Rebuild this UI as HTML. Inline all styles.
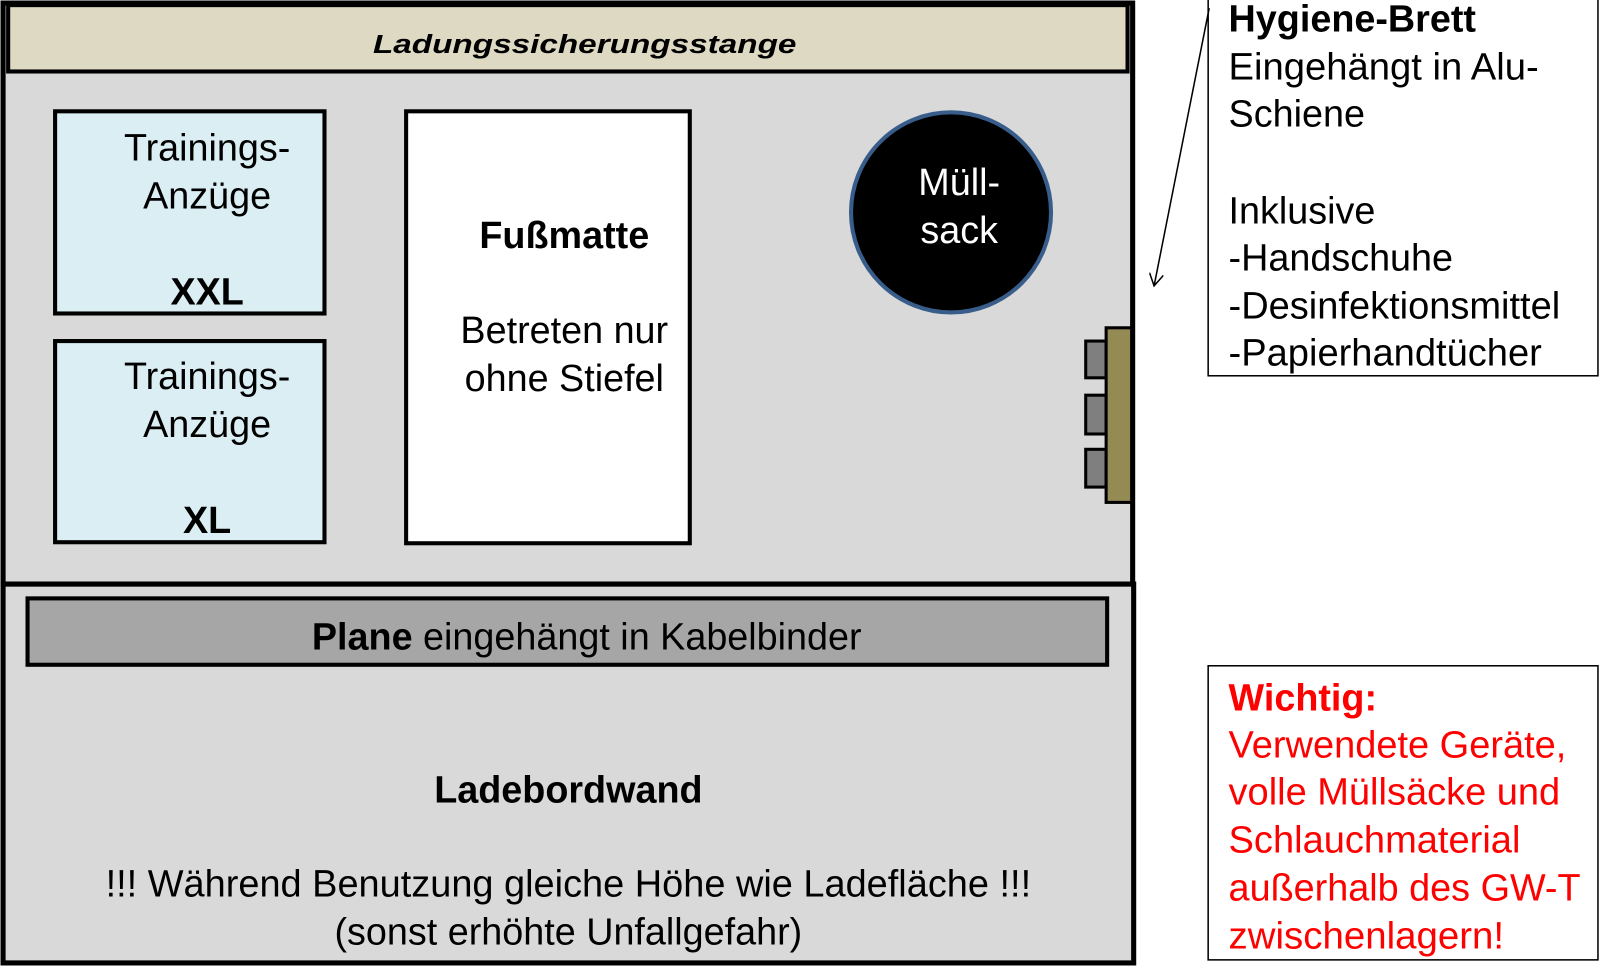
<!DOCTYPE html>
<html><head><meta charset="utf-8"><style>
html,body{margin:0;padding:0;background:#fff;}
svg{display:block;}
text{font-family:"Liberation Sans",Arial,sans-serif;}
</style></head><body>
<svg width="1600" height="966" viewBox="0 0 1568 946" preserveAspectRatio="none" xmlns="http://www.w3.org/2000/svg">
<defs>
<marker id="ah" markerWidth="14" markerHeight="14" refX="12" refY="7" orient="auto" markerUnits="userSpaceOnUse">
<path d="M0,0 L12,7 L0,14" fill="none" stroke="#000" stroke-width="1.5"/>
</marker>
</defs>
<rect x="0" y="0" width="1568" height="946" fill="#fff"/>
<rect x="3" y="3" width="1107" height="569" fill="#d9d9d9" stroke="#000" stroke-width="5"/>
<rect x="3" y="572" width="1108" height="371" fill="#d9d9d9" stroke="#000" stroke-width="5"/>
<rect x="8" y="5" width="1097" height="65" fill="#ddd9c3" stroke="#000" stroke-width="4"/>
<text x="573" y="52" font-size="25" font-weight="bold" font-style="italic" text-anchor="middle" textLength="415" lengthAdjust="spacingAndGlyphs">Ladungssicherungsstange</text>
<g font-size="37" text-anchor="middle">
<rect x="54" y="109" width="264" height="198" fill="#daeef3" stroke="#000" stroke-width="4"/>
<text x="203" y="157">Trainings-</text>
<text x="203" y="204">Anzüge</text>
<text x="203" y="298" font-size="37" font-weight="bold">XXL</text>
<rect x="54" y="334" width="264" height="197" fill="#daeef3" stroke="#000" stroke-width="4"/>
<text x="203" y="381">Trainings-</text>
<text x="203" y="428">Anzüge</text>
<text x="203" y="522" font-weight="bold">XL</text>
<rect x="398" y="109" width="278" height="423" fill="#fff" stroke="#000" stroke-width="4"/>
<text x="553" y="243" font-weight="bold">Fußmatte</text>
<text x="553" y="336">Betreten nur</text>
<text x="553" y="383">ohne Stiefel</text>
<circle cx="932" cy="208" r="98" fill="#000" stroke="#385d8a" stroke-width="4"/>
<text x="940" y="191" fill="#fff">Müll-</text>
<text x="940" y="238" fill="#fff">sack</text>
</g>
<rect x="1064" y="334" width="20" height="36" fill="#7f7f7f" stroke="#000" stroke-width="3"/>
<rect x="1064" y="387" width="20" height="38" fill="#7f7f7f" stroke="#000" stroke-width="3"/>
<rect x="1064" y="440" width="20" height="37" fill="#7f7f7f" stroke="#000" stroke-width="3"/>
<rect x="1084" y="321" width="25" height="171" fill="#948a54" stroke="#000" stroke-width="3"/>
<rect x="27" y="586" width="1058" height="65" fill="#a6a6a6" stroke="#000" stroke-width="4"/>
<g font-size="37" text-anchor="middle">
<text x="575" y="636"><tspan font-weight="bold">Plane</tspan> eingehängt in Kabelbinder</text>
<text x="557" y="786" font-weight="bold">Ladebordwand</text>
<text x="557" y="878" textLength="907" lengthAdjust="spacingAndGlyphs">!!! Während Benutzung gleiche Höhe wie Ladefläche !!!</text>
<text x="557" y="925">(sonst erhöhte Unfallgefahr)</text>
</g>
<rect x="1184" y="-2" width="382" height="370" fill="#fff" stroke="#000" stroke-width="1.5"/>
<line x1="1185" y1="8" x2="1131" y2="280" stroke="#000" stroke-width="1.5" marker-end="url(#ah)"/>
<g font-size="37">
<text x="1204" y="31" font-weight="bold">Hygiene-Brett</text>
<text x="1204" y="78" textLength="304" lengthAdjust="spacingAndGlyphs">Eingehängt in Alu-</text>
<text x="1204" y="124">Schiene</text>
<text x="1204" y="219">Inklusive</text>
<text x="1204" y="265">-Handschuhe</text>
<text x="1204" y="312" textLength="325" lengthAdjust="spacingAndGlyphs">-Desinfektionsmittel</text>
<text x="1204" y="358" textLength="307" lengthAdjust="spacingAndGlyphs">-Papierhandtücher</text>
</g>
<rect x="1184" y="652" width="382" height="288" fill="#fff" stroke="#000" stroke-width="1.5"/>
<g font-size="37" fill="#ff0000">
<text x="1204" y="696" font-weight="bold">Wichtig:</text>
<text x="1204" y="742" textLength="331" lengthAdjust="spacingAndGlyphs">Verwendete Geräte,</text>
<text x="1204" y="788" textLength="325" lengthAdjust="spacingAndGlyphs">volle Müllsäcke und</text>
<text x="1204" y="835" textLength="286" lengthAdjust="spacingAndGlyphs">Schlauchmaterial</text>
<text x="1204" y="882" textLength="345" lengthAdjust="spacingAndGlyphs">außerhalb des GW-T</text>
<text x="1204" y="929" textLength="270" lengthAdjust="spacingAndGlyphs">zwischenlagern!</text>
</g>
</svg>
</body></html>
